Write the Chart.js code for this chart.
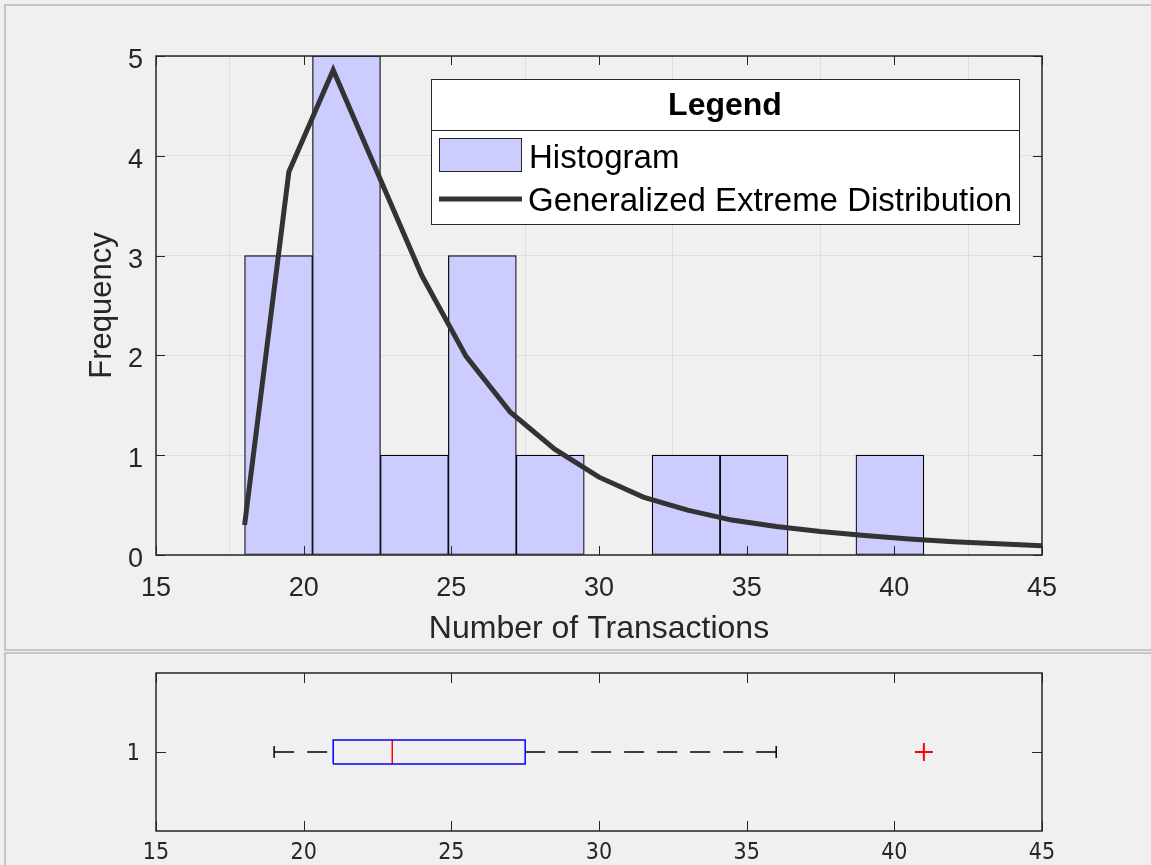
<!DOCTYPE html>
<html>
<head>
<meta charset="utf-8">
<script src="https://cdn.jsdelivr.net/npm/chart.js@4.4.0/dist/chart.umd.min.js"></script>
<style>
  body { margin: 0; background: #f0f0f0; width: 1151px; height: 865px; overflow: hidden; position: relative; }
  .panel { position: absolute; box-sizing: border-box; border: 2px solid #c6c6c6; border-right: none; }
  #topPanel { left: 4px; top: 4px; width: 1200px; height: 647px; }
  #botPanel { left: 4px; top: 652px; width: 1200px; height: 240px; border-bottom: none; }
  canvas { position: absolute; left: 0; }
  #hist { top: 0; }
  #box { top: 652px; }
</style>
</head>
<body>
<div class="panel" id="topPanel"></div>
<div class="panel" id="botPanel"></div>
<canvas id="hist" width="1151" height="648"></canvas>
<canvas id="box" width="1151" height="213"></canvas>
<script>
// histogram bins
const binEdges = [18, 20.3, 22.6, 24.9, 27.2, 29.5, 31.8, 34.1, 36.4, 38.7, 41];
const binCounts = [3, 5, 1, 3, 1, 0, 1, 1, 0, 1];

// fitted GEV curve (scaled to counts)
const fitX = [18, 19.5, 21, 22.5, 24, 25.5, 27, 28.5, 30, 31.5, 33, 34.5, 36, 37.5, 39, 40.5, 42, 43.5, 45];
const fitY = [0.30, 3.84, 4.86, 3.83, 2.80, 1.99, 1.43, 1.06, 0.78, 0.58, 0.45, 0.35, 0.285, 0.235, 0.195, 0.16, 0.133, 0.113, 0.093];

const xTicks = [15, 20, 25, 30, 35, 40, 45];
const yTicks = [0, 1, 2, 3, 4, 5];

// boxplot stats
const whiskerLow = 19;
const q1 = 21;
const median = 23;
const q3 = 27.5;
const whiskerHigh = 36;
const outliers = [41];
const boxTicks = [1];

Chart.defaults.font.family = "'Liberation Sans', Arial, sans-serif";
Chart.defaults.color = '#262626';
Chart.defaults.animation = false;

const histData = [];
for (let i = 0; i < binCounts.length; i++) {
    histData.push({x: (binEdges[i] + binEdges[i + 1]) / 2, y: binCounts[i]});
}
const fitData = fitX.map((x, i) => ({x: x, y: fitY[i]}));

// matlab-like box with inward ticks
const axesBox = {
    id: 'axesBox',
    afterDatasetsDraw(chart, args, opts) {
        const ctx = chart.ctx;
        const a = chart.chartArea;
        const sx = chart.scales.x, sy = chart.scales.y;
        const len = opts.tickLength || 9;
        ctx.save();
        ctx.strokeStyle = '#262626';
        ctx.lineWidth = 1;
        ctx.beginPath();
        sx.ticks.forEach(t => {
            const px = Math.round(sx.getPixelForValue(t.value)) + 0.5;
            ctx.moveTo(px, a.bottom); ctx.lineTo(px, a.bottom - len);
            ctx.moveTo(px, a.top); ctx.lineTo(px, a.top + len);
        });
        sy.ticks.forEach(t => {
            const py = Math.round(sy.getPixelForValue(t.value)) + 0.5;
            ctx.moveTo(a.left, py); ctx.lineTo(a.left + len, py);
            ctx.moveTo(a.right, py); ctx.lineTo(a.right - len, py);
        });
        ctx.stroke();
        ctx.lineWidth = 1.5;
        ctx.strokeRect(a.left, a.top, a.right - a.left, a.bottom - a.top);
        ctx.restore();
    }
};

// legend box with title, like matlab
const boxLegend = {
    id: 'boxLegend',
    afterDraw(chart, args, o) {
        const ctx = chart.ctx;
        const bars = chart.data.datasets[1];
        const line = chart.data.datasets[0];
        ctx.save();
        ctx.fillStyle = '#ffffff';
        ctx.fillRect(o.left, o.top, o.width, o.height);
        ctx.strokeStyle = '#262626';
        ctx.lineWidth = 1;
        ctx.strokeRect(o.left + 0.5, o.top + 0.5, o.width, o.height);
        ctx.beginPath();
        ctx.moveTo(o.left, o.top + o.titleHeight + 0.5);
        ctx.lineTo(o.left + o.width, o.top + o.titleHeight + 0.5);
        ctx.stroke();

        ctx.fillStyle = '#000000';
        ctx.textBaseline = 'middle';
        ctx.textAlign = 'center';
        ctx.font = "bold 32px 'Liberation Sans', Arial, sans-serif";
        ctx.fillText('Legend', o.left + o.width / 2, o.top + o.titleHeight / 2 + 2);

        ctx.textAlign = 'left';
        ctx.font = "33px 'Liberation Sans', Arial, sans-serif";
        // histogram patch
        ctx.fillStyle = bars.backgroundColor;
        ctx.fillRect(o.left + 8, o.top + 59, 83, 34);
        ctx.strokeStyle = '#262626';
        ctx.strokeRect(o.left + 8.5, o.top + 59.5, 82, 33);
        ctx.fillStyle = '#000000';
        ctx.fillText(bars.label, o.left + 98, o.top + 80);
        // fit line
        ctx.strokeStyle = line.borderColor;
        ctx.lineWidth = line.borderWidth;
        ctx.beginPath();
        ctx.moveTo(o.left + 8, o.top + 120);
        ctx.lineTo(o.left + 91, o.top + 120);
        ctx.stroke();
        ctx.fillText(line.label, o.left + 97, o.top + 123);
        ctx.restore();
    }
};

new Chart(document.getElementById('hist'), {
    type: 'bar',
    data: {
        datasets: [
            {
                type: 'line',
                label: 'Generalized Extreme Distribution',
                data: fitData,
                borderColor: '#333333',
                borderWidth: 5,
                pointRadius: 0,
                tension: 0,
                fill: false,
                order: 0
            },
            {
                type: 'bar',
                label: 'Histogram',
                data: histData,
                backgroundColor: '#ccccff',
                borderColor: '#000000',
                borderWidth: 1.2,
                borderSkipped: false,
                barPercentage: 1,
                categoryPercentage: 1,
                order: 1
            }
        ]
    },
    options: {
        responsive: false,
        devicePixelRatio: 1,
        layout: {padding: {left: 0, top: 56, right: 109, bottom: 0}},
        plugins: {
            legend: {display: false},
            tooltip: {enabled: false},
            axesBox: {tickLength: 9},
            boxLegend: {left: 431, top: 79, width: 588, height: 145, titleHeight: 51}
        },
        scales: {
            x: {
                type: 'linear',
                offset: false,
                min: 15,
                max: 45,
                afterBuildTicks: s => { s.ticks = xTicks.map(v => ({value: v})); },
                afterFit: s => { s.height = 93; },
                ticks: {font: {size: 27}, padding: 17, maxRotation: 0},
                grid: {color: '#dedede', drawTicks: false},
                border: {display: false},
                title: {display: true, text: 'Number of Transactions', font: {size: 32}, color: '#262626', padding: {top: 0, bottom: 0}}
            },
            y: {
                type: 'linear',
                min: 0,
                max: 5,
                afterBuildTicks: s => { s.ticks = yTicks.map(v => ({value: v})); },
                afterFit: s => { s.width = 156; },
                // blank first line nudges the label down to sit on the tick like matlab
                ticks: {font: {size: 27, lineHeight: '9px'}, padding: 13, callback: v => ['', String(v)]},
                grid: {color: '#dedede', drawTicks: false},
                border: {display: false},
                title: {display: true, text: 'Frequency', font: {size: 31}, color: '#262626', padding: {top: 84, bottom: 0}}
            }
        }
    },
    plugins: [axesBox, boxLegend]
});

// boxplot
const bh = 0.076, ch = 0.038;
const narrow = "'Liberation Sans Narrow', 'DejaVu Sans Condensed', Arial, sans-serif";
const lineDs = (pts, color, dash) => ({
    data: pts.map(p => ({x: p[0], y: p[1]})),
    showLine: true,
    borderColor: color,
    borderWidth: 1.5,
    borderDash: dash || [],
    pointRadius: 0,
    tension: 0
});
new Chart(document.getElementById('box'), {
    type: 'scatter',
    data: {
        datasets: [
            lineDs([[q1, 1 - bh], [q3, 1 - bh], [q3, 1 + bh], [q1, 1 + bh], [q1, 1 - bh]], '#0000ff'),
            lineDs([[median, 1 - bh], [median, 1 + bh]], '#ff0000'),
            lineDs([[whiskerLow, 1], [q1, 1]], '#000000', [20, 13]),
            lineDs([[q3, 1], [whiskerHigh, 1]], '#000000', [20, 13]),
            lineDs([[whiskerLow, 1 - ch], [whiskerLow, 1 + ch]], '#000000'),
            lineDs([[whiskerHigh, 1 - ch], [whiskerHigh, 1 + ch]], '#000000'),
            {
                data: outliers.map(v => ({x: v, y: 1})),
                pointStyle: 'cross',
                pointRadius: 9,
                borderColor: '#ff0000',
                borderWidth: 2,
                showLine: false
            }
        ]
    },
    options: {
        responsive: false,
        devicePixelRatio: 1,
        layout: {padding: {left: 0, top: 21, right: 109, bottom: 0}},
        plugins: {legend: {display: false}, tooltip: {enabled: false}, axesBox: {tickLength: 10}},
        scales: {
            x: {
                type: 'linear',
                min: 15,
                max: 45,
                afterBuildTicks: s => { s.ticks = xTicks.map(v => ({value: v})); },
                afterFit: s => { s.height = 34; },
                ticks: {font: {family: narrow, size: 23}, padding: 0, maxRotation: 0},
                grid: {display: false},
                border: {display: false}
            },
            y: {
                type: 'linear',
                min: 0.5,
                max: 1.5,
                afterBuildTicks: s => { s.ticks = boxTicks.map(v => ({value: v})); },
                afterFit: s => { s.width = 156; },
                ticks: {font: {family: narrow, size: 23, lineHeight: '4px'}, padding: 8, callback: v => ['', String(v)]},
                grid: {display: false},
                border: {display: false}
            }
        }
    },
    plugins: [axesBox]
});
</script>
</body>
</html>
